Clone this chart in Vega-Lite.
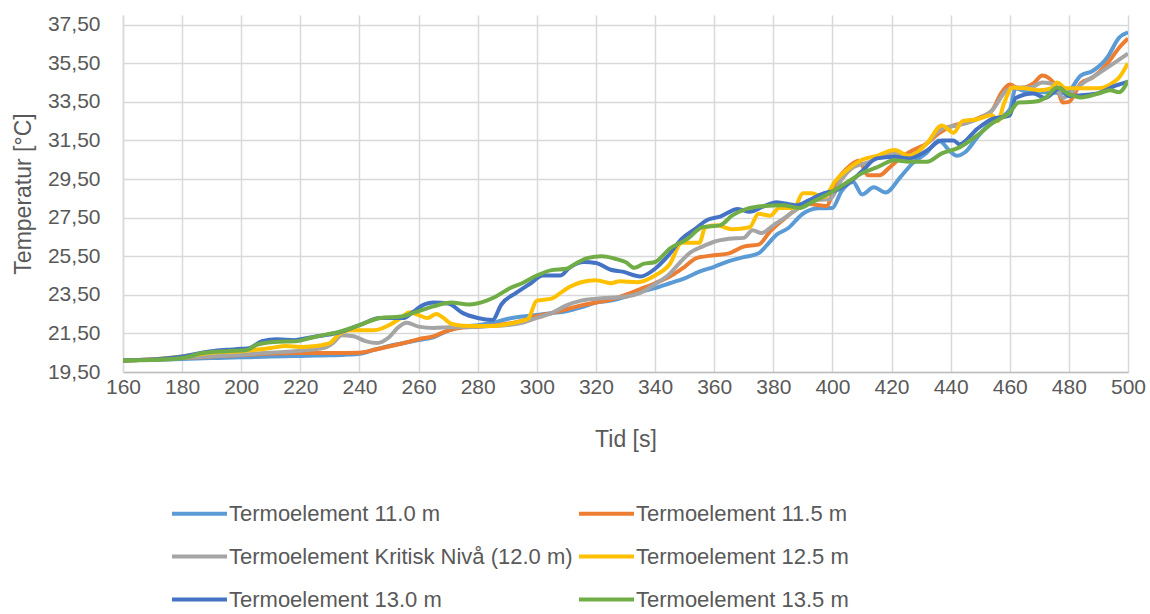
{
  "$schema": "https://vega.github.io/schema/vega-lite/v6.json",
  "width": 1005,
  "height": 357,
  "autosize": {"type": "none"},
  "padding": {"left": 123, "top": 15, "right": 22, "bottom": 242},
  "background": "white",
  "config": {
    "font": "Liberation Sans",
    "view": {"stroke": null},
    "axis": {
      "labelColor": "#595959",
      "titleColor": "#595959",
      "titleFontWeight": "normal",
      "labelFontSize": 21,
      "titleFontSize": 23,
      "ticks": false,
      "labelFlush": false,
      "gridColor": "#D9D9D9",
      "gridWidth": 1.5
    }
  },
  "data": {
    "values": [
      {"t":160,"s":"Termoelement 11.0 m","v":20.10},{"t":165,"s":"Termoelement 11.0 m","v":20.12},{"t":170,"s":"Termoelement 11.0 m","v":20.13},{"t":175,"s":"Termoelement 11.0 m","v":20.15},{"t":180,"s":"Termoelement 11.0 m","v":20.18},{"t":185,"s":"Termoelement 11.0 m","v":20.20},{"t":190,"s":"Termoelement 11.0 m","v":20.22},{"t":195,"s":"Termoelement 11.0 m","v":20.24},{"t":200,"s":"Termoelement 11.0 m","v":20.26},{"t":205,"s":"Termoelement 11.0 m","v":20.28},{"t":210,"s":"Termoelement 11.0 m","v":20.30},{"t":215,"s":"Termoelement 11.0 m","v":20.32},{"t":220,"s":"Termoelement 11.0 m","v":20.33},{"t":225,"s":"Termoelement 11.0 m","v":20.35},{"t":230,"s":"Termoelement 11.0 m","v":20.37},{"t":235,"s":"Termoelement 11.0 m","v":20.40},{"t":240,"s":"Termoelement 11.0 m","v":20.45},{"t":245,"s":"Termoelement 11.0 m","v":20.65},{"t":250,"s":"Termoelement 11.0 m","v":20.85},{"t":255,"s":"Termoelement 11.0 m","v":21.00},{"t":260,"s":"Termoelement 11.0 m","v":21.15},{"t":265,"s":"Termoelement 11.0 m","v":21.30},{"t":270,"s":"Termoelement 11.0 m","v":21.65},{"t":275,"s":"Termoelement 11.0 m","v":21.85},{"t":280,"s":"Termoelement 11.0 m","v":21.92},{"t":285,"s":"Termoelement 11.0 m","v":22.05},{"t":290,"s":"Termoelement 11.0 m","v":22.25},{"t":295,"s":"Termoelement 11.0 m","v":22.38},{"t":300,"s":"Termoelement 11.0 m","v":22.45},{"t":305,"s":"Termoelement 11.0 m","v":22.55},{"t":310,"s":"Termoelement 11.0 m","v":22.65},{"t":315,"s":"Termoelement 11.0 m","v":22.85},{"t":320,"s":"Termoelement 11.0 m","v":23.10},{"t":325,"s":"Termoelement 11.0 m","v":23.20},{"t":330,"s":"Termoelement 11.0 m","v":23.40},{"t":335,"s":"Termoelement 11.0 m","v":23.65},{"t":340,"s":"Termoelement 11.0 m","v":23.85},{"t":345,"s":"Termoelement 11.0 m","v":24.10},{"t":350,"s":"Termoelement 11.0 m","v":24.35},{"t":355,"s":"Termoelement 11.0 m","v":24.70},{"t":360,"s":"Termoelement 11.0 m","v":24.95},{"t":365,"s":"Termoelement 11.0 m","v":25.25},{"t":370,"s":"Termoelement 11.0 m","v":25.45},{"t":375,"s":"Termoelement 11.0 m","v":25.65},{"t":378,"s":"Termoelement 11.0 m","v":26.10},{"t":381,"s":"Termoelement 11.0 m","v":26.60},{"t":385,"s":"Termoelement 11.0 m","v":26.95},{"t":390,"s":"Termoelement 11.0 m","v":27.70},{"t":395,"s":"Termoelement 11.0 m","v":27.98},{"t":400,"s":"Termoelement 11.0 m","v":28.00},{"t":403,"s":"Termoelement 11.0 m","v":28.85},{"t":407,"s":"Termoelement 11.0 m","v":29.35},{"t":410,"s":"Termoelement 11.0 m","v":28.70},{"t":414,"s":"Termoelement 11.0 m","v":29.07},{"t":418,"s":"Termoelement 11.0 m","v":28.80},{"t":423,"s":"Termoelement 11.0 m","v":29.60},{"t":427,"s":"Termoelement 11.0 m","v":30.30},{"t":432,"s":"Termoelement 11.0 m","v":30.88},{"t":436,"s":"Termoelement 11.0 m","v":31.50},{"t":440,"s":"Termoelement 11.0 m","v":30.90},{"t":442,"s":"Termoelement 11.0 m","v":30.70},{"t":445,"s":"Termoelement 11.0 m","v":30.90},{"t":449,"s":"Termoelement 11.0 m","v":31.66},{"t":452,"s":"Termoelement 11.0 m","v":32.17},{"t":456,"s":"Termoelement 11.0 m","v":32.60},{"t":460,"s":"Termoelement 11.0 m","v":33.10},{"t":462,"s":"Termoelement 11.0 m","v":34.20},{"t":466,"s":"Termoelement 11.0 m","v":34.00},{"t":472,"s":"Termoelement 11.0 m","v":34.00},{"t":479,"s":"Termoelement 11.0 m","v":33.93},{"t":484,"s":"Termoelement 11.0 m","v":34.86},{"t":488,"s":"Termoelement 11.0 m","v":35.10},{"t":493,"s":"Termoelement 11.0 m","v":35.80},{"t":497,"s":"Termoelement 11.0 m","v":36.83},{"t":500,"s":"Termoelement 11.0 m","v":37.10},

      {"t":160,"s":"Termoelement 11.5 m","v":20.10},{"t":170,"s":"Termoelement 11.5 m","v":20.15},{"t":180,"s":"Termoelement 11.5 m","v":20.22},{"t":190,"s":"Termoelement 11.5 m","v":20.30},{"t":200,"s":"Termoelement 11.5 m","v":20.38},{"t":205,"s":"Termoelement 11.5 m","v":20.42},{"t":210,"s":"Termoelement 11.5 m","v":20.46},{"t":220,"s":"Termoelement 11.5 m","v":20.48},{"t":230,"s":"Termoelement 11.5 m","v":20.48},{"t":240,"s":"Termoelement 11.5 m","v":20.50},{"t":245,"s":"Termoelement 11.5 m","v":20.65},{"t":250,"s":"Termoelement 11.5 m","v":20.82},{"t":255,"s":"Termoelement 11.5 m","v":21.00},{"t":260,"s":"Termoelement 11.5 m","v":21.20},{"t":265,"s":"Termoelement 11.5 m","v":21.35},{"t":270,"s":"Termoelement 11.5 m","v":21.65},{"t":275,"s":"Termoelement 11.5 m","v":21.80},{"t":280,"s":"Termoelement 11.5 m","v":21.85},{"t":285,"s":"Termoelement 11.5 m","v":21.90},{"t":290,"s":"Termoelement 11.5 m","v":22.00},{"t":295,"s":"Termoelement 11.5 m","v":22.15},{"t":300,"s":"Termoelement 11.5 m","v":22.40},{"t":305,"s":"Termoelement 11.5 m","v":22.55},{"t":310,"s":"Termoelement 11.5 m","v":22.75},{"t":315,"s":"Termoelement 11.5 m","v":22.95},{"t":320,"s":"Termoelement 11.5 m","v":23.10},{"t":325,"s":"Termoelement 11.5 m","v":23.25},{"t":330,"s":"Termoelement 11.5 m","v":23.50},{"t":335,"s":"Termoelement 11.5 m","v":23.80},{"t":340,"s":"Termoelement 11.5 m","v":24.10},{"t":345,"s":"Termoelement 11.5 m","v":24.45},{"t":350,"s":"Termoelement 11.5 m","v":24.95},{"t":354,"s":"Termoelement 11.5 m","v":25.40},{"t":360,"s":"Termoelement 11.5 m","v":25.55},{"t":365,"s":"Termoelement 11.5 m","v":25.65},{"t":370,"s":"Termoelement 11.5 m","v":26.00},{"t":375,"s":"Termoelement 11.5 m","v":26.10},{"t":379,"s":"Termoelement 11.5 m","v":26.80},{"t":383,"s":"Termoelement 11.5 m","v":27.35},{"t":388,"s":"Termoelement 11.5 m","v":27.95},{"t":392,"s":"Termoelement 11.5 m","v":28.20},{"t":398,"s":"Termoelement 11.5 m","v":28.10},{"t":401,"s":"Termoelement 11.5 m","v":29.25},{"t":406,"s":"Termoelement 11.5 m","v":30.20},{"t":409,"s":"Termoelement 11.5 m","v":30.45},{"t":412,"s":"Termoelement 11.5 m","v":29.70},{"t":416,"s":"Termoelement 11.5 m","v":29.70},{"t":419,"s":"Termoelement 11.5 m","v":30.05},{"t":423,"s":"Termoelement 11.5 m","v":30.60},{"t":427,"s":"Termoelement 11.5 m","v":30.98},{"t":432,"s":"Termoelement 11.5 m","v":31.35},{"t":436,"s":"Termoelement 11.5 m","v":31.86},{"t":441,"s":"Termoelement 11.5 m","v":32.28},{"t":445,"s":"Termoelement 11.5 m","v":32.40},{"t":450,"s":"Termoelement 11.5 m","v":32.70},{"t":454,"s":"Termoelement 11.5 m","v":33.05},{"t":457,"s":"Termoelement 11.5 m","v":33.93},{"t":460,"s":"Termoelement 11.5 m","v":34.40},{"t":463,"s":"Termoelement 11.5 m","v":34.20},{"t":468,"s":"Termoelement 11.5 m","v":34.45},{"t":471,"s":"Termoelement 11.5 m","v":34.86},{"t":473,"s":"Termoelement 11.5 m","v":34.75},{"t":476,"s":"Termoelement 11.5 m","v":34.20},{"t":478,"s":"Termoelement 11.5 m","v":33.47},{"t":480,"s":"Termoelement 11.5 m","v":33.50},{"t":484,"s":"Termoelement 11.5 m","v":34.45},{"t":488,"s":"Termoelement 11.5 m","v":34.76},{"t":493,"s":"Termoelement 11.5 m","v":35.48},{"t":497,"s":"Termoelement 11.5 m","v":36.30},{"t":500,"s":"Termoelement 11.5 m","v":36.78},

      {"t":160,"s":"Termoelement Kritisk Nivå (12.0 m)","v":20.10},{"t":170,"s":"Termoelement Kritisk Nivå (12.0 m)","v":20.15},{"t":180,"s":"Termoelement Kritisk Nivå (12.0 m)","v":20.22},{"t":190,"s":"Termoelement Kritisk Nivå (12.0 m)","v":20.32},{"t":200,"s":"Termoelement Kritisk Nivå (12.0 m)","v":20.40},{"t":210,"s":"Termoelement Kritisk Nivå (12.0 m)","v":20.50},{"t":220,"s":"Termoelement Kritisk Nivå (12.0 m)","v":20.60},{"t":228,"s":"Termoelement Kritisk Nivå (12.0 m)","v":20.75},{"t":231,"s":"Termoelement Kritisk Nivå (12.0 m)","v":21.00},{"t":234,"s":"Termoelement Kritisk Nivå (12.0 m)","v":21.40},{"t":238,"s":"Termoelement Kritisk Nivå (12.0 m)","v":21.35},{"t":242,"s":"Termoelement Kritisk Nivå (12.0 m)","v":21.10},{"t":246,"s":"Termoelement Kritisk Nivå (12.0 m)","v":21.00},{"t":250,"s":"Termoelement Kritisk Nivå (12.0 m)","v":21.30},{"t":253,"s":"Termoelement Kritisk Nivå (12.0 m)","v":21.80},{"t":256,"s":"Termoelement Kritisk Nivå (12.0 m)","v":22.05},{"t":260,"s":"Termoelement Kritisk Nivå (12.0 m)","v":21.85},{"t":265,"s":"Termoelement Kritisk Nivå (12.0 m)","v":21.78},{"t":270,"s":"Termoelement Kritisk Nivå (12.0 m)","v":21.82},{"t":280,"s":"Termoelement Kritisk Nivå (12.0 m)","v":21.85},{"t":290,"s":"Termoelement Kritisk Nivå (12.0 m)","v":21.93},{"t":295,"s":"Termoelement Kritisk Nivå (12.0 m)","v":22.05},{"t":300,"s":"Termoelement Kritisk Nivå (12.0 m)","v":22.30},{"t":305,"s":"Termoelement Kritisk Nivå (12.0 m)","v":22.55},{"t":310,"s":"Termoelement Kritisk Nivå (12.0 m)","v":22.95},{"t":315,"s":"Termoelement Kritisk Nivå (12.0 m)","v":23.20},{"t":320,"s":"Termoelement Kritisk Nivå (12.0 m)","v":23.30},{"t":330,"s":"Termoelement Kritisk Nivå (12.0 m)","v":23.40},{"t":335,"s":"Termoelement Kritisk Nivå (12.0 m)","v":23.60},{"t":340,"s":"Termoelement Kritisk Nivå (12.0 m)","v":24.05},{"t":345,"s":"Termoelement Kritisk Nivå (12.0 m)","v":24.60},{"t":348,"s":"Termoelement Kritisk Nivå (12.0 m)","v":25.10},{"t":352,"s":"Termoelement Kritisk Nivå (12.0 m)","v":25.70},{"t":356,"s":"Termoelement Kritisk Nivå (12.0 m)","v":26.00},{"t":360,"s":"Termoelement Kritisk Nivå (12.0 m)","v":26.25},{"t":365,"s":"Termoelement Kritisk Nivå (12.0 m)","v":26.40},{"t":370,"s":"Termoelement Kritisk Nivå (12.0 m)","v":26.45},{"t":373,"s":"Termoelement Kritisk Nivå (12.0 m)","v":26.85},{"t":376,"s":"Termoelement Kritisk Nivå (12.0 m)","v":26.70},{"t":380,"s":"Termoelement Kritisk Nivå (12.0 m)","v":27.10},{"t":384,"s":"Termoelement Kritisk Nivå (12.0 m)","v":27.50},{"t":389,"s":"Termoelement Kritisk Nivå (12.0 m)","v":28.05},{"t":393,"s":"Termoelement Kritisk Nivå (12.0 m)","v":28.40},{"t":399,"s":"Termoelement Kritisk Nivå (12.0 m)","v":28.45},{"t":403,"s":"Termoelement Kritisk Nivå (12.0 m)","v":29.45},{"t":407,"s":"Termoelement Kritisk Nivå (12.0 m)","v":30.10},{"t":412,"s":"Termoelement Kritisk Nivå (12.0 m)","v":30.36},{"t":415,"s":"Termoelement Kritisk Nivå (12.0 m)","v":30.57},{"t":421,"s":"Termoelement Kritisk Nivå (12.0 m)","v":30.83},{"t":426,"s":"Termoelement Kritisk Nivå (12.0 m)","v":30.70},{"t":432,"s":"Termoelement Kritisk Nivå (12.0 m)","v":31.35},{"t":437,"s":"Termoelement Kritisk Nivå (12.0 m)","v":32.10},{"t":443,"s":"Termoelement Kritisk Nivå (12.0 m)","v":32.30},{"t":449,"s":"Termoelement Kritisk Nivå (12.0 m)","v":32.60},{"t":454,"s":"Termoelement Kritisk Nivå (12.0 m)","v":33.05},{"t":459,"s":"Termoelement Kritisk Nivå (12.0 m)","v":34.10},{"t":462,"s":"Termoelement Kritisk Nivå (12.0 m)","v":34.24},{"t":467,"s":"Termoelement Kritisk Nivå (12.0 m)","v":34.24},{"t":471,"s":"Termoelement Kritisk Nivå (12.0 m)","v":34.50},{"t":475,"s":"Termoelement Kritisk Nivå (12.0 m)","v":34.40},{"t":478,"s":"Termoelement Kritisk Nivå (12.0 m)","v":33.70},{"t":481,"s":"Termoelement Kritisk Nivå (12.0 m)","v":34.00},{"t":485,"s":"Termoelement Kritisk Nivå (12.0 m)","v":34.50},{"t":490,"s":"Termoelement Kritisk Nivå (12.0 m)","v":34.97},{"t":495,"s":"Termoelement Kritisk Nivå (12.0 m)","v":35.48},{"t":500,"s":"Termoelement Kritisk Nivå (12.0 m)","v":36.00},

      {"t":160,"s":"Termoelement 12.5 m","v":20.10},{"t":170,"s":"Termoelement 12.5 m","v":20.15},{"t":180,"s":"Termoelement 12.5 m","v":20.30},{"t":190,"s":"Termoelement 12.5 m","v":20.50},{"t":200,"s":"Termoelement 12.5 m","v":20.58},{"t":205,"s":"Termoelement 12.5 m","v":20.65},{"t":210,"s":"Termoelement 12.5 m","v":20.74},{"t":215,"s":"Termoelement 12.5 m","v":20.85},{"t":220,"s":"Termoelement 12.5 m","v":20.80},{"t":225,"s":"Termoelement 12.5 m","v":20.85},{"t":230,"s":"Termoelement 12.5 m","v":21.00},{"t":233,"s":"Termoelement 12.5 m","v":21.45},{"t":237,"s":"Termoelement 12.5 m","v":21.67},{"t":245,"s":"Termoelement 12.5 m","v":21.67},{"t":250,"s":"Termoelement 12.5 m","v":21.93},{"t":254,"s":"Termoelement 12.5 m","v":22.30},{"t":257,"s":"Termoelement 12.5 m","v":22.60},{"t":260,"s":"Termoelement 12.5 m","v":22.45},{"t":263,"s":"Termoelement 12.5 m","v":22.30},{"t":266,"s":"Termoelement 12.5 m","v":22.50},{"t":268,"s":"Termoelement 12.5 m","v":22.35},{"t":271,"s":"Termoelement 12.5 m","v":22.00},{"t":275,"s":"Termoelement 12.5 m","v":21.90},{"t":280,"s":"Termoelement 12.5 m","v":21.88},{"t":285,"s":"Termoelement 12.5 m","v":21.88},{"t":290,"s":"Termoelement 12.5 m","v":21.98},{"t":295,"s":"Termoelement 12.5 m","v":22.15},{"t":297,"s":"Termoelement 12.5 m","v":22.25},{"t":300,"s":"Termoelement 12.5 m","v":23.20},{"t":305,"s":"Termoelement 12.5 m","v":23.30},{"t":308,"s":"Termoelement 12.5 m","v":23.60},{"t":311,"s":"Termoelement 12.5 m","v":23.90},{"t":315,"s":"Termoelement 12.5 m","v":24.15},{"t":320,"s":"Termoelement 12.5 m","v":24.26},{"t":325,"s":"Termoelement 12.5 m","v":24.10},{"t":328,"s":"Termoelement 12.5 m","v":24.20},{"t":334,"s":"Termoelement 12.5 m","v":24.15},{"t":340,"s":"Termoelement 12.5 m","v":24.50},{"t":345,"s":"Termoelement 12.5 m","v":25.10},{"t":349,"s":"Termoelement 12.5 m","v":26.20},{"t":355,"s":"Termoelement 12.5 m","v":26.20},{"t":357,"s":"Termoelement 12.5 m","v":27.00},{"t":361,"s":"Termoelement 12.5 m","v":27.10},{"t":366,"s":"Termoelement 12.5 m","v":26.90},{"t":372,"s":"Termoelement 12.5 m","v":27.00},{"t":375,"s":"Termoelement 12.5 m","v":27.70},{"t":379,"s":"Termoelement 12.5 m","v":27.60},{"t":382,"s":"Termoelement 12.5 m","v":28.00},{"t":387,"s":"Termoelement 12.5 m","v":28.00},{"t":390,"s":"Termoelement 12.5 m","v":28.76},{"t":393,"s":"Termoelement 12.5 m","v":28.76},{"t":397,"s":"Termoelement 12.5 m","v":28.55},{"t":401,"s":"Termoelement 12.5 m","v":29.40},{"t":406,"s":"Termoelement 12.5 m","v":30.10},{"t":410,"s":"Termoelement 12.5 m","v":30.50},{"t":415,"s":"Termoelement 12.5 m","v":30.70},{"t":421,"s":"Termoelement 12.5 m","v":31.00},{"t":426,"s":"Termoelement 12.5 m","v":30.70},{"t":432,"s":"Termoelement 12.5 m","v":31.35},{"t":437,"s":"Termoelement 12.5 m","v":32.28},{"t":441,"s":"Termoelement 12.5 m","v":31.90},{"t":444,"s":"Termoelement 12.5 m","v":32.50},{"t":449,"s":"Termoelement 12.5 m","v":32.60},{"t":454,"s":"Termoelement 12.5 m","v":32.80},{"t":456,"s":"Termoelement 12.5 m","v":32.50},{"t":458,"s":"Termoelement 12.5 m","v":33.40},{"t":461,"s":"Termoelement 12.5 m","v":34.24},{"t":465,"s":"Termoelement 12.5 m","v":34.20},{"t":470,"s":"Termoelement 12.5 m","v":34.10},{"t":474,"s":"Termoelement 12.5 m","v":34.20},{"t":476,"s":"Termoelement 12.5 m","v":34.50},{"t":479,"s":"Termoelement 12.5 m","v":34.20},{"t":485,"s":"Termoelement 12.5 m","v":34.20},{"t":490,"s":"Termoelement 12.5 m","v":34.20},{"t":494,"s":"Termoelement 12.5 m","v":34.40},{"t":497,"s":"Termoelement 12.5 m","v":34.76},{"t":500,"s":"Termoelement 12.5 m","v":35.50},

      {"t":160,"s":"Termoelement 13.0 m","v":20.10},{"t":170,"s":"Termoelement 13.0 m","v":20.15},{"t":180,"s":"Termoelement 13.0 m","v":20.30},{"t":185,"s":"Termoelement 13.0 m","v":20.45},{"t":190,"s":"Termoelement 13.0 m","v":20.58},{"t":195,"s":"Termoelement 13.0 m","v":20.65},{"t":200,"s":"Termoelement 13.0 m","v":20.70},{"t":203,"s":"Termoelement 13.0 m","v":20.75},{"t":207,"s":"Termoelement 13.0 m","v":21.10},{"t":212,"s":"Termoelement 13.0 m","v":21.20},{"t":218,"s":"Termoelement 13.0 m","v":21.15},{"t":222,"s":"Termoelement 13.0 m","v":21.25},{"t":228,"s":"Termoelement 13.0 m","v":21.40},{"t":233,"s":"Termoelement 13.0 m","v":21.55},{"t":240,"s":"Termoelement 13.0 m","v":21.93},{"t":247,"s":"Termoelement 13.0 m","v":22.30},{"t":255,"s":"Termoelement 13.0 m","v":22.30},{"t":258,"s":"Termoelement 13.0 m","v":22.60},{"t":262,"s":"Termoelement 13.0 m","v":23.00},{"t":265,"s":"Termoelement 13.0 m","v":23.10},{"t":270,"s":"Termoelement 13.0 m","v":23.05},{"t":275,"s":"Termoelement 13.0 m","v":22.55},{"t":280,"s":"Termoelement 13.0 m","v":22.30},{"t":285,"s":"Termoelement 13.0 m","v":22.20},{"t":288,"s":"Termoelement 13.0 m","v":23.00},{"t":293,"s":"Termoelement 13.0 m","v":23.60},{"t":298,"s":"Termoelement 13.0 m","v":24.10},{"t":302,"s":"Termoelement 13.0 m","v":24.50},{"t":308,"s":"Termoelement 13.0 m","v":24.50},{"t":311,"s":"Termoelement 13.0 m","v":24.90},{"t":316,"s":"Termoelement 13.0 m","v":25.20},{"t":320,"s":"Termoelement 13.0 m","v":25.15},{"t":325,"s":"Termoelement 13.0 m","v":24.80},{"t":329,"s":"Termoelement 13.0 m","v":24.70},{"t":335,"s":"Termoelement 13.0 m","v":24.45},{"t":340,"s":"Termoelement 13.0 m","v":24.85},{"t":344,"s":"Termoelement 13.0 m","v":25.45},{"t":349,"s":"Termoelement 13.0 m","v":26.40},{"t":353,"s":"Termoelement 13.0 m","v":26.85},{"t":358,"s":"Termoelement 13.0 m","v":27.40},{"t":362,"s":"Termoelement 13.0 m","v":27.55},{"t":368,"s":"Termoelement 13.0 m","v":27.95},{"t":372,"s":"Termoelement 13.0 m","v":27.80},{"t":377,"s":"Termoelement 13.0 m","v":28.10},{"t":381,"s":"Termoelement 13.0 m","v":28.30},{"t":388,"s":"Termoelement 13.0 m","v":28.14},{"t":392,"s":"Termoelement 13.0 m","v":28.40},{"t":397,"s":"Termoelement 13.0 m","v":28.76},{"t":401,"s":"Termoelement 13.0 m","v":28.90},{"t":406,"s":"Termoelement 13.0 m","v":29.35},{"t":410,"s":"Termoelement 13.0 m","v":29.90},{"t":415,"s":"Termoelement 13.0 m","v":30.57},{"t":421,"s":"Termoelement 13.0 m","v":30.65},{"t":426,"s":"Termoelement 13.0 m","v":30.57},{"t":432,"s":"Termoelement 13.0 m","v":30.98},{"t":437,"s":"Termoelement 13.0 m","v":31.50},{"t":441,"s":"Termoelement 13.0 m","v":31.50},{"t":443,"s":"Termoelement 13.0 m","v":31.30},{"t":449,"s":"Termoelement 13.0 m","v":32.10},{"t":454,"s":"Termoelement 13.0 m","v":32.60},{"t":460,"s":"Termoelement 13.0 m","v":32.80},{"t":462,"s":"Termoelement 13.0 m","v":33.70},{"t":468,"s":"Termoelement 13.0 m","v":33.93},{"t":472,"s":"Termoelement 13.0 m","v":33.70},{"t":477,"s":"Termoelement 13.0 m","v":34.20},{"t":480,"s":"Termoelement 13.0 m","v":33.80},{"t":485,"s":"Termoelement 13.0 m","v":33.85},{"t":490,"s":"Termoelement 13.0 m","v":33.95},{"t":496,"s":"Termoelement 13.0 m","v":34.35},{"t":500,"s":"Termoelement 13.0 m","v":34.55},

      {"t":160,"s":"Termoelement 13.5 m","v":20.10},{"t":170,"s":"Termoelement 13.5 m","v":20.12},{"t":180,"s":"Termoelement 13.5 m","v":20.22},{"t":187,"s":"Termoelement 13.5 m","v":20.48},{"t":195,"s":"Termoelement 13.5 m","v":20.58},{"t":202,"s":"Termoelement 13.5 m","v":20.64},{"t":205,"s":"Termoelement 13.5 m","v":20.90},{"t":211,"s":"Termoelement 13.5 m","v":21.05},{"t":219,"s":"Termoelement 13.5 m","v":21.10},{"t":223,"s":"Termoelement 13.5 m","v":21.25},{"t":229,"s":"Termoelement 13.5 m","v":21.45},{"t":233,"s":"Termoelement 13.5 m","v":21.57},{"t":240,"s":"Termoelement 13.5 m","v":21.93},{"t":247,"s":"Termoelement 13.5 m","v":22.30},{"t":254,"s":"Termoelement 13.5 m","v":22.38},{"t":259,"s":"Termoelement 13.5 m","v":22.60},{"t":265,"s":"Termoelement 13.5 m","v":22.90},{"t":271,"s":"Termoelement 13.5 m","v":23.10},{"t":277,"s":"Termoelement 13.5 m","v":23.00},{"t":283,"s":"Termoelement 13.5 m","v":23.20},{"t":286,"s":"Termoelement 13.5 m","v":23.40},{"t":291,"s":"Termoelement 13.5 m","v":23.85},{"t":295,"s":"Termoelement 13.5 m","v":24.10},{"t":300,"s":"Termoelement 13.5 m","v":24.50},{"t":305,"s":"Termoelement 13.5 m","v":24.78},{"t":310,"s":"Termoelement 13.5 m","v":24.85},{"t":313,"s":"Termoelement 13.5 m","v":25.10},{"t":317,"s":"Termoelement 13.5 m","v":25.40},{"t":322,"s":"Termoelement 13.5 m","v":25.50},{"t":327,"s":"Termoelement 13.5 m","v":25.35},{"t":330,"s":"Termoelement 13.5 m","v":25.20},{"t":333,"s":"Termoelement 13.5 m","v":24.90},{"t":336,"s":"Termoelement 13.5 m","v":25.10},{"t":340,"s":"Termoelement 13.5 m","v":25.20},{"t":345,"s":"Termoelement 13.5 m","v":25.90},{"t":351,"s":"Termoelement 13.5 m","v":26.40},{"t":356,"s":"Termoelement 13.5 m","v":27.00},{"t":362,"s":"Termoelement 13.5 m","v":27.10},{"t":366,"s":"Termoelement 13.5 m","v":27.60},{"t":371,"s":"Termoelement 13.5 m","v":27.95},{"t":377,"s":"Termoelement 13.5 m","v":28.10},{"t":383,"s":"Termoelement 13.5 m","v":28.14},{"t":389,"s":"Termoelement 13.5 m","v":28.00},{"t":393,"s":"Termoelement 13.5 m","v":28.30},{"t":399,"s":"Termoelement 13.5 m","v":28.76},{"t":405,"s":"Termoelement 13.5 m","v":29.33},{"t":410,"s":"Termoelement 13.5 m","v":29.80},{"t":415,"s":"Termoelement 13.5 m","v":30.10},{"t":421,"s":"Termoelement 13.5 m","v":30.47},{"t":426,"s":"Termoelement 13.5 m","v":30.40},{"t":432,"s":"Termoelement 13.5 m","v":30.40},{"t":437,"s":"Termoelement 13.5 m","v":30.83},{"t":443,"s":"Termoelement 13.5 m","v":31.14},{"t":449,"s":"Termoelement 13.5 m","v":31.76},{"t":454,"s":"Termoelement 13.5 m","v":32.38},{"t":460,"s":"Termoelement 13.5 m","v":32.95},{"t":463,"s":"Termoelement 13.5 m","v":33.47},{"t":468,"s":"Termoelement 13.5 m","v":33.50},{"t":472,"s":"Termoelement 13.5 m","v":33.70},{"t":476,"s":"Termoelement 13.5 m","v":34.24},{"t":480,"s":"Termoelement 13.5 m","v":33.90},{"t":484,"s":"Termoelement 13.5 m","v":33.73},{"t":490,"s":"Termoelement 13.5 m","v":33.93},{"t":494,"s":"Termoelement 13.5 m","v":34.10},{"t":497,"s":"Termoelement 13.5 m","v":34.00},{"t":500,"s":"Termoelement 13.5 m","v":34.60}
    ]
  },
  "mark": {"type": "line", "strokeWidth": 4, "interpolate": "monotone", "clip": true},
  "encoding": {
    "x": {
      "field": "t",
      "type": "quantitative",
      "scale": {"domain": [160, 500], "nice": false, "zero": false},
      "axis": {
        "title": "Tid [s]",
        "values": [160, 180, 200, 220, 240, 260, 280, 300, 320, 340, 360, 380, 400, 420, 440, 460, 480, 500],
        "format": "d",
        "labelPadding": 4,
        "titlePadding": 31,
        "domainColor": "#BFBFBF",
        "domainWidth": 1.5
      }
    },
    "y": {
      "field": "v",
      "type": "quantitative",
      "scale": {"domain": [19.5, 38], "nice": false, "zero": false},
      "axis": {
        "title": "Temperatur [°C]",
        "values": [19.5, 21.5, 23.5, 25.5, 27.5, 29.5, 31.5, 33.5, 35.5, 37.5],
        "labelExpr": "replace(format(datum.value, '.2f'), '.', ',')",
        "labelPadding": 23,
        "titlePadding": 12,
        "domainColor": "#D9D9D9",
        "domainWidth": 1.5
      }
    },
    "color": {
      "field": "s",
      "type": "nominal",
      "sort": null,
      "scale": {
        "domain": ["Termoelement 11.0 m", "Termoelement 11.5 m", "Termoelement Kritisk Nivå (12.0 m)", "Termoelement 12.5 m", "Termoelement 13.0 m", "Termoelement 13.5 m"],
        "range": ["#5B9BD5", "#ED7D31", "#A5A5A5", "#FFC000", "#4472C4", "#70AD47"]
      },
      "legend": {
        "title": null,
        "orient": "none",
        "direction": "horizontal",
        "legendX": 47,
        "legendY": 469,
        "columns": 2,
        "padding": 0,
        "symbolType": "stroke",
        "symbolSize": 3025,
        "symbolStrokeWidth": 4,
        "labelFontSize": 22,
        "labelColor": "#595959",
        "labelOffset": 0,
        "labelLimit": 500,
        "rowPadding": 2,
        "columnPadding": -2
      }
    }
  }
}
